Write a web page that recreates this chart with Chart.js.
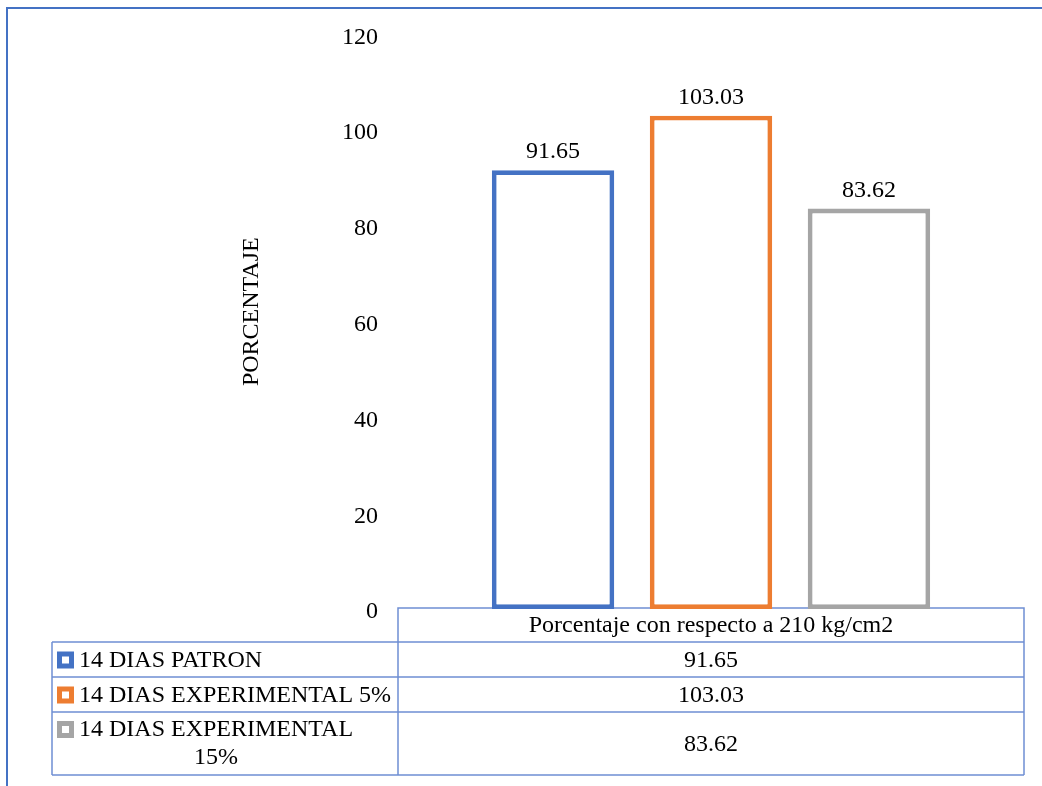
<!DOCTYPE html>
<html>
<head>
<meta charset="utf-8">
<script src="https://cdn.jsdelivr.net/npm/chart.js@4/dist/chart.umd.min.js"></script>
<style>
  html, body { margin: 0; padding: 0; background: #ffffff; }
  #wrap { width: 1042px; height: 786px; }
</style>
</head>
<body>
<div id="wrap"><canvas id="c" width="1042" height="786"></canvas></div>
<script>
// Chart values
const categories = ['Porcentaje con respecto a 210 kg/cm2'];
const seriesNames = ['14 DIAS PATRON', '14 DIAS EXPERIMENTAL 5%', '14 DIAS EXPERIMENTAL 15%'];
const seriesValues = [91.65, 103.03, 83.62];
const seriesColors = ['#4472C4', '#ED7D31', '#A5A5A5'];
const yMin = 0, yMax = 120, yStep = 20;
const yTitle = 'PORCENTAJE';

const FONT = "'Liberation Serif', 'Times New Roman', serif";
const FONT_SIZE = 24;
const TABLE_LINE = '#6f8fd3';
const FRAME = '#4472C4';

// Outer frame (top and left edges) and rotated axis title
const framePlugin = {
  id: 'frame',
  beforeDraw(chart) {
    const ctx = chart.ctx;
    ctx.save();
    ctx.fillStyle = '#ffffff';
    ctx.fillRect(0, 0, chart.width, chart.height);
    ctx.strokeStyle = FRAME;
    ctx.lineWidth = 2;
    ctx.beginPath();
    ctx.moveTo(7, chart.height);
    ctx.lineTo(7, 8);
    ctx.lineTo(chart.width, 8);
    ctx.stroke();

    const area = chart.chartArea;
    ctx.translate(252, (area.top + area.bottom) / 2 - 10);
    ctx.rotate(-Math.PI / 2);
    ctx.font = FONT_SIZE + 'px ' + FONT;
    ctx.fillStyle = '#000000';
    ctx.textAlign = 'center';
    ctx.textBaseline = 'middle';
    ctx.fillText(yTitle, 0, 0);
    ctx.restore();
  }
};

// Value labels above bars
const valueLabels = {
  id: 'valueLabels',
  afterDatasetsDraw(chart) {
    const ctx = chart.ctx;
    ctx.save();
    ctx.font = FONT_SIZE + 'px ' + FONT;
    ctx.fillStyle = '#000000';
    ctx.textAlign = 'center';
    ctx.textBaseline = 'alphabetic';
    chart.data.datasets.forEach((ds, i) => {
      const meta = chart.getDatasetMeta(i);
      meta.data.forEach((bar, j) => {
        ctx.fillText(ds.data[j].toFixed(2), bar.x, bar.y - 12);
      });
    });
    ctx.restore();
  }
};

// Data table below the plot area
const dataTable = {
  id: 'dataTable',
  beforeDatasetsDraw(chart) {
    const ctx = chart.ctx;
    const area = chart.chartArea;
    const left = 52, mid = area.left, right = area.right;
    const headTop = area.bottom - 1, headBottom = 642;
    const rowBottoms = [677, 712, 775];
    const keyX = 57, textX = 79;

    ctx.save();
    ctx.strokeStyle = TABLE_LINE;
    ctx.lineWidth = 1.5;
    ctx.beginPath();
    // header cell
    ctx.moveTo(mid, rowBottoms[rowBottoms.length - 1]);
    ctx.lineTo(mid, headTop);
    ctx.lineTo(right, headTop);
    ctx.lineTo(right, rowBottoms[rowBottoms.length - 1]);
    // row lines
    ctx.moveTo(left, headBottom);
    ctx.lineTo(right, headBottom);
    rowBottoms.forEach(y => { ctx.moveTo(left, y); ctx.lineTo(right, y); });
    ctx.moveTo(left, headBottom);
    ctx.lineTo(left, rowBottoms[rowBottoms.length - 1]);
    ctx.stroke();

    ctx.font = FONT_SIZE + 'px ' + FONT;
    ctx.fillStyle = '#000000';
    ctx.textBaseline = 'middle';
    ctx.textAlign = 'center';
    const cx = (mid + right) / 2;
    ctx.fillText(categories[0], cx, (headTop + headBottom) / 2 + 1);

    const maxTextW = mid - textX - 5;
    let top = headBottom;
    chart.data.datasets.forEach((ds, i) => {
      const bottom = rowBottoms[i];
      // value cell
      ctx.textAlign = 'center';
      ctx.fillStyle = '#000000';
      ctx.fillText(ds.data[0].toFixed(2), cx, (top + bottom) / 2 + 1);

      // wrap series name
      const words = ds.label.split(' ');
      const lines = [];
      let line = '';
      words.forEach(w => {
        const test = line ? line + ' ' + w : w;
        if (ctx.measureText(test).width > maxTextW && line) { lines.push(line); line = w; }
        else line = test;
      });
      lines.push(line);

      const lh = 28;
      const firstY = lines.length === 1 ? (top + bottom) / 2 + 1 : top + 18;
      // legend key
      ctx.fillStyle = ds.borderColor;
      ctx.fillRect(keyX, firstY - 9, 17, 17);
      ctx.fillStyle = '#ffffff';
      ctx.fillRect(keyX + 5, firstY - 4, 7, 7);

      ctx.fillStyle = '#000000';
      ctx.textAlign = 'left';
      ctx.fillText(lines[0], textX, firstY);
      if (lines.length > 1) {
        const blockCenter = textX + ctx.measureText(lines[0]).width / 2;
        ctx.textAlign = 'center';
        for (let k = 1; k < lines.length; k++) {
          ctx.fillText(lines[k], blockCenter, firstY + lh * k);
        }
      }
      top = bottom;
    });
    ctx.restore();
  }
};

const datasets = seriesNames.map((name, i) => ({
  label: name,
  data: [seriesValues[i]],
  backgroundColor: '#ffffff',
  borderColor: seriesColors[i],
  borderWidth: 4.8,
  borderSkipped: false,
  categoryPercentage: 0.757,
  barPercentage: 0.775
}));

new Chart(document.getElementById('c'), {
  type: 'bar',
  data: { labels: categories, datasets },
  options: {
    responsive: false,
    animation: false,
    devicePixelRatio: 1,
    layout: { padding: { top: 32, bottom: 177, left: 0, right: 18 } },
    plugins: { legend: { display: false }, tooltip: { enabled: false } },
    scales: {
      x: { display: false },
      y: {
        min: yMin, max: yMax,
        afterFit(scale) { scale.width = 398; },
        ticks: { stepSize: yStep, padding: 20, labelOffset: 3, color: '#000000', font: { family: FONT, size: FONT_SIZE } },
        grid: { display: false, drawTicks: false },
        border: { display: false },
        title: { display: false }
      }
    }
  },
  plugins: [framePlugin, valueLabels, dataTable]
});
</script>
</body>
</html>
